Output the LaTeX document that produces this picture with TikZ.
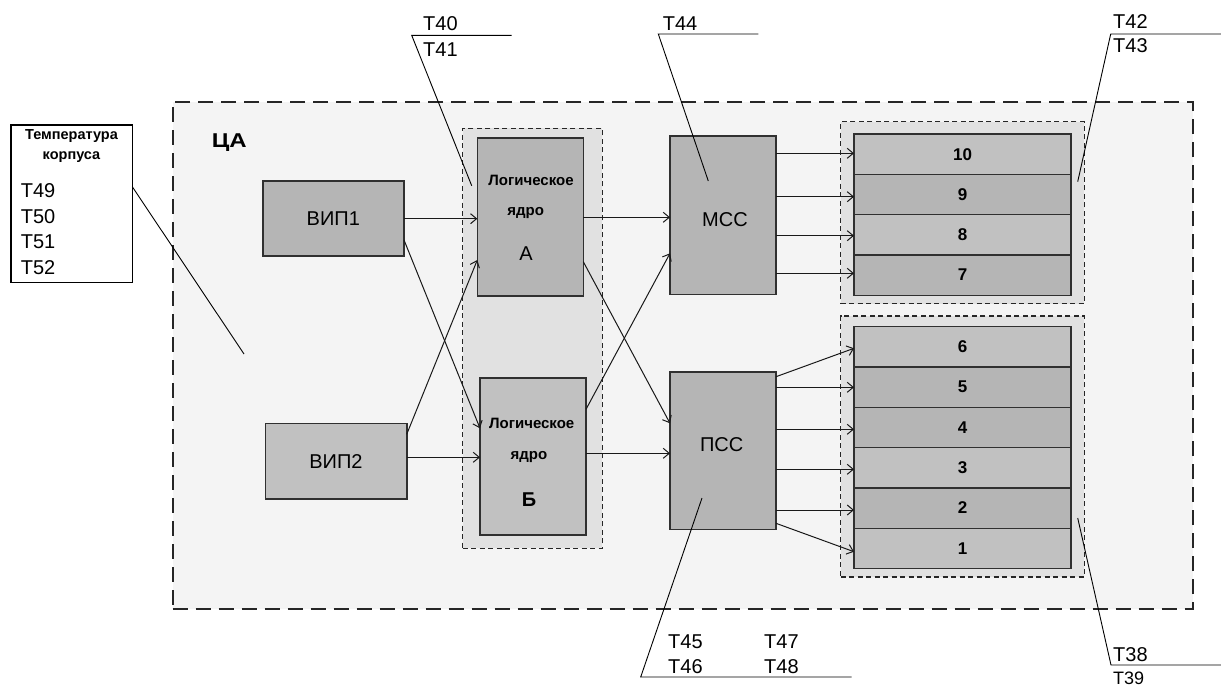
\documentclass[tikz,border=0pt]{standalone}
\usepackage{fontspec}
\setmainfont{Liberation Sans}
\usetikzlibrary{arrows.meta}
\definecolor{outerfill}{HTML}{F4F4F4}
\definecolor{groupfill}{HTML}{E1E1E1}
\definecolor{boxa}{HTML}{B5B5B5}
\definecolor{boxb}{HTML}{C1C1C1}
\definecolor{edge}{HTML}{303030}
\begin{document}
\begin{tikzpicture}[x=1pt,y=-1pt,
 box/.style={draw=edge,line width=1.6pt,inner sep=0pt,outer sep=0pt,anchor=north west,fill=boxa},
 rowbox/.style={draw=edge,line width=1.2pt,inner sep=0pt,outer sep=0pt,anchor=north west,
   minimum width=217pt,minimum height=40.3pt,font=\fontsize{17}{20}\selectfont\bfseries},
 outerbox/.style={draw=black!85,line width=1.6pt,dash pattern=on 15pt off 8pt,fill=outerfill,
   inner sep=0pt,outer sep=0pt,anchor=north west},
 groupbox/.style={draw=black!85,line width=1.3pt,dash pattern=on 5pt off 3.5pt,fill=groupfill,
   inner sep=0pt,outer sep=0pt,anchor=north west},
 arr/.style={draw=black!90,line width=1pt,-{Straight Barb[length=6pt,width=10pt]}},
 lead/.style={draw=black,line width=0.9pt},
 big/.style={font=\fontsize{20}{24}\selectfont,inner sep=0pt,anchor=base},
 tlab/.style={font=\fontsize{20}{24}\selectfont,inner sep=0pt,anchor=base west},
 core/.style={font=\fontsize{15}{18}\selectfont\bfseries,inner sep=0pt,anchor=base},
 small/.style={font=\fontsize{14.5}{17}\selectfont\bfseries,inner sep=0pt,anchor=base}
]
\useasboundingbox (0,0) rectangle (1221,686);
\fill[white] (0,0) rectangle (1221,686);

% outer dashed area
\node[outerbox,minimum width=1020pt,minimum height=507.3pt] (ca) at (172.7,101.7) {};
\node[font=\fontsize{20}{24}\selectfont\bfseries,inner sep=0pt,anchor=base west,xscale=1.2] (calab) at (211.7,147.3) {ЦА};

% temperature box
\node[draw=black,line width=1.4pt,fill=white,inner sep=0pt,outer sep=0pt,anchor=north west,
  minimum width=121.3pt,minimum height=157.7pt] (temp) at (11,125) {};
\node[small] (tt1) at (71.5,139) {Температура};
\node[small] (tt2) at (71.5,159.3) {корпуса};
\node[tlab] (t49) at (20.7,197.3) {Т49};
\node[tlab] (t50) at (20.7,223.3) {Т50};
\node[tlab] (t51) at (20.7,248.3) {Т51};
\node[tlab] (t52) at (20.7,274) {Т52};

% groups
\node[groupbox,minimum width=139.6pt,minimum height=420pt] (gcore) at (462.7,128.3) {};
\node[groupbox,minimum width=243.6pt,minimum height=182pt] (gup) at (840.7,121.7) {};
\node[groupbox,minimum width=243.6pt,minimum height=261pt] (glow) at (840.7,316) {};

% power units
\node[box,fill=boxa,minimum width=141.3pt,minimum height=75.3pt,font=\fontsize{20}{24}\selectfont] (vip1) at (262.7,180.7) {ВИП1};
\node[box,fill=boxb,minimum width=141.4pt,minimum height=75.7pt,font=\fontsize{20}{24}\selectfont] (vip2) at (265.3,423.3) {ВИП2};

% cores
\node[box,fill=boxa,minimum width=106pt,minimum height=158pt] (coreA) at (477.3,137.7) {};
\node[core] (ca1) at (531,185.7) {Логическое};
\node[core] (ca2) at (525.7,215.7) {ядро};
\node[big] (ca3) at (526,260) {А};
\node[box,fill=boxb,minimum width=106pt,minimum height=157.3pt] (coreB) at (480,377.7) {};
\node[core] (cb1) at (531.7,428.3) {Логическое};
\node[core] (cb2) at (529,459.3) {ядро};
\node[big,font=\fontsize{20}{24}\selectfont\bfseries] (cb3) at (529,506.7) {Б};

% switches
\node[box,fill=boxa,minimum width=106pt,minimum height=158.3pt] (mss) at (670,136) {};
\node[big] (msslab) at (725,226) {МСС};
\node[box,fill=boxa,minimum width=106pt,minimum height=157.6pt] (pss) at (670,371.7) {};
\node[big] (psslab) at (721.7,451.7) {ПСС};

% rows
\node[rowbox,fill=boxb] (r10) at (854,134) {10};
\node[rowbox,fill=boxa] (r9) at (854,174.3) {9};
\node[rowbox,fill=boxb] (r8) at (854,214.6) {8};
\node[rowbox,fill=boxa] (r7) at (854,254.9) {7};
\node[rowbox,fill=boxb] (r6) at (854,326.7) {6};
\node[rowbox,fill=boxa] (r5) at (854,367) {5};
\node[rowbox,fill=boxa] (r4) at (854,407.3) {4};
\node[rowbox,fill=boxb] (r3) at (854,447.6) {3};
\node[rowbox,fill=boxa] (r2) at (854,487.9) {2};
\node[rowbox,fill=boxb] (r1) at (854,528.2) {1};

% arrows
\draw[arr] (vip1.east |- 0,218.7) -- (coreA.west |- 0,218.7);
\draw[arr] (vip1.east |- 0,240) -- (coreB.west |- 0,428.3);
\draw[arr] (vip2.east |- 0,434.3) -- (coreA.west |- 0,260);
\draw[arr] (vip2.east |- 0,457.3) -- (coreB.west |- 0,457.3);
\draw[arr] (coreA.east |- 0,217.3) -- (mss.west |- 0,217.3);
\draw[arr] (coreA.east |- 0,261.7) -- (pss.west |- 0,423.3);
\draw[arr] (coreB.east |- 0,409.3) -- (mss.west |- 0,253.3);
\draw[arr] (coreB.east |- 0,453.3) -- (pss.west |- 0,453.3);
\draw[arr] (mss.east |- 0,153.3) -- (r10.west |- 0,153.3);
\draw[arr] (mss.east |- 0,196.7) -- (r9.west |- 0,196.7);
\draw[arr] (mss.east |- 0,235.7) -- (r8.west |- 0,235.7);
\draw[arr] (mss.east |- 0,273.3) -- (r7.west |- 0,273.3);
\draw[arr] (pss.east |- 0,376.7) -- (r6.west |- 0,348.3);
\draw[arr] (pss.east |- 0,387.3) -- (r5.west |- 0,387.3);
\draw[arr] (pss.east |- 0,429.3) -- (r4.west |- 0,429.3);
\draw[arr] (pss.east |- 0,469.3) -- (r3.west |- 0,469.3);
\draw[arr] (pss.east |- 0,510) -- (r2.west |- 0,510);
\draw[arr] (pss.east |- 0,523.3) -- (r1.west |- 0,551.7);

% leader lines
\coordinate (ltemp) at (244,354);
\draw[lead] (temp.east |- 0,186.7) -- (ltemp);

\coordinate (l40a) at (511.7,35.3);
\coordinate (l40b) at (411.7,35.3);
\coordinate (l40c) at (471.7,185.7);
\draw[lead] (l40a) -- (l40b) -- (l40c);
\node[tlab] (t40) at (423,30.7) {Т40};
\node[tlab] (t41) at (423,56) {Т41};

\coordinate (l44a) at (758.3,34);
\coordinate (l44b) at (658.3,34);
\coordinate (l44c) at (708.3,181);
\draw[lead] (l44a) -- (l44b) -- (l44c);
\node[tlab] (t44) at (662.7,30) {Т44};

\coordinate (l42a) at (1221,34);
\coordinate (l42b) at (1110.7,34);
\coordinate (l42c) at (1077.7,181.7);
\draw[lead] (l42a) -- (l42b) -- (l42c);
\node[tlab] (t42) at (1113,28.3) {Т42};
\node[tlab] (t43) at (1113,52.7) {Т43};

\coordinate (l38a) at (1221,665);
\coordinate (l38b) at (1111,665);
\coordinate (l38c) at (1077.7,518);
\draw[lead] (l38a) -- (l38b) -- (l38c);
\node[tlab] (t38) at (1113,661.7) {Т38};
\node[tlab,font=\fontsize{18}{22}\selectfont] (t39) at (1113,684.5) {Т39};

\coordinate (l45a) at (851.7,677);
\coordinate (l45b) at (640.7,677);
\coordinate (l45c) at (702,498);
\draw[lead] (l45a) -- (l45b) -- (l45c);
\node[tlab] (t45) at (668,648) {Т45};
\node[tlab] (t46) at (668,673) {Т46};
\node[tlab] (t47) at (764,648) {Т47};
\node[tlab] (t48) at (764,673) {Т48};
\end{tikzpicture}
\end{document}
